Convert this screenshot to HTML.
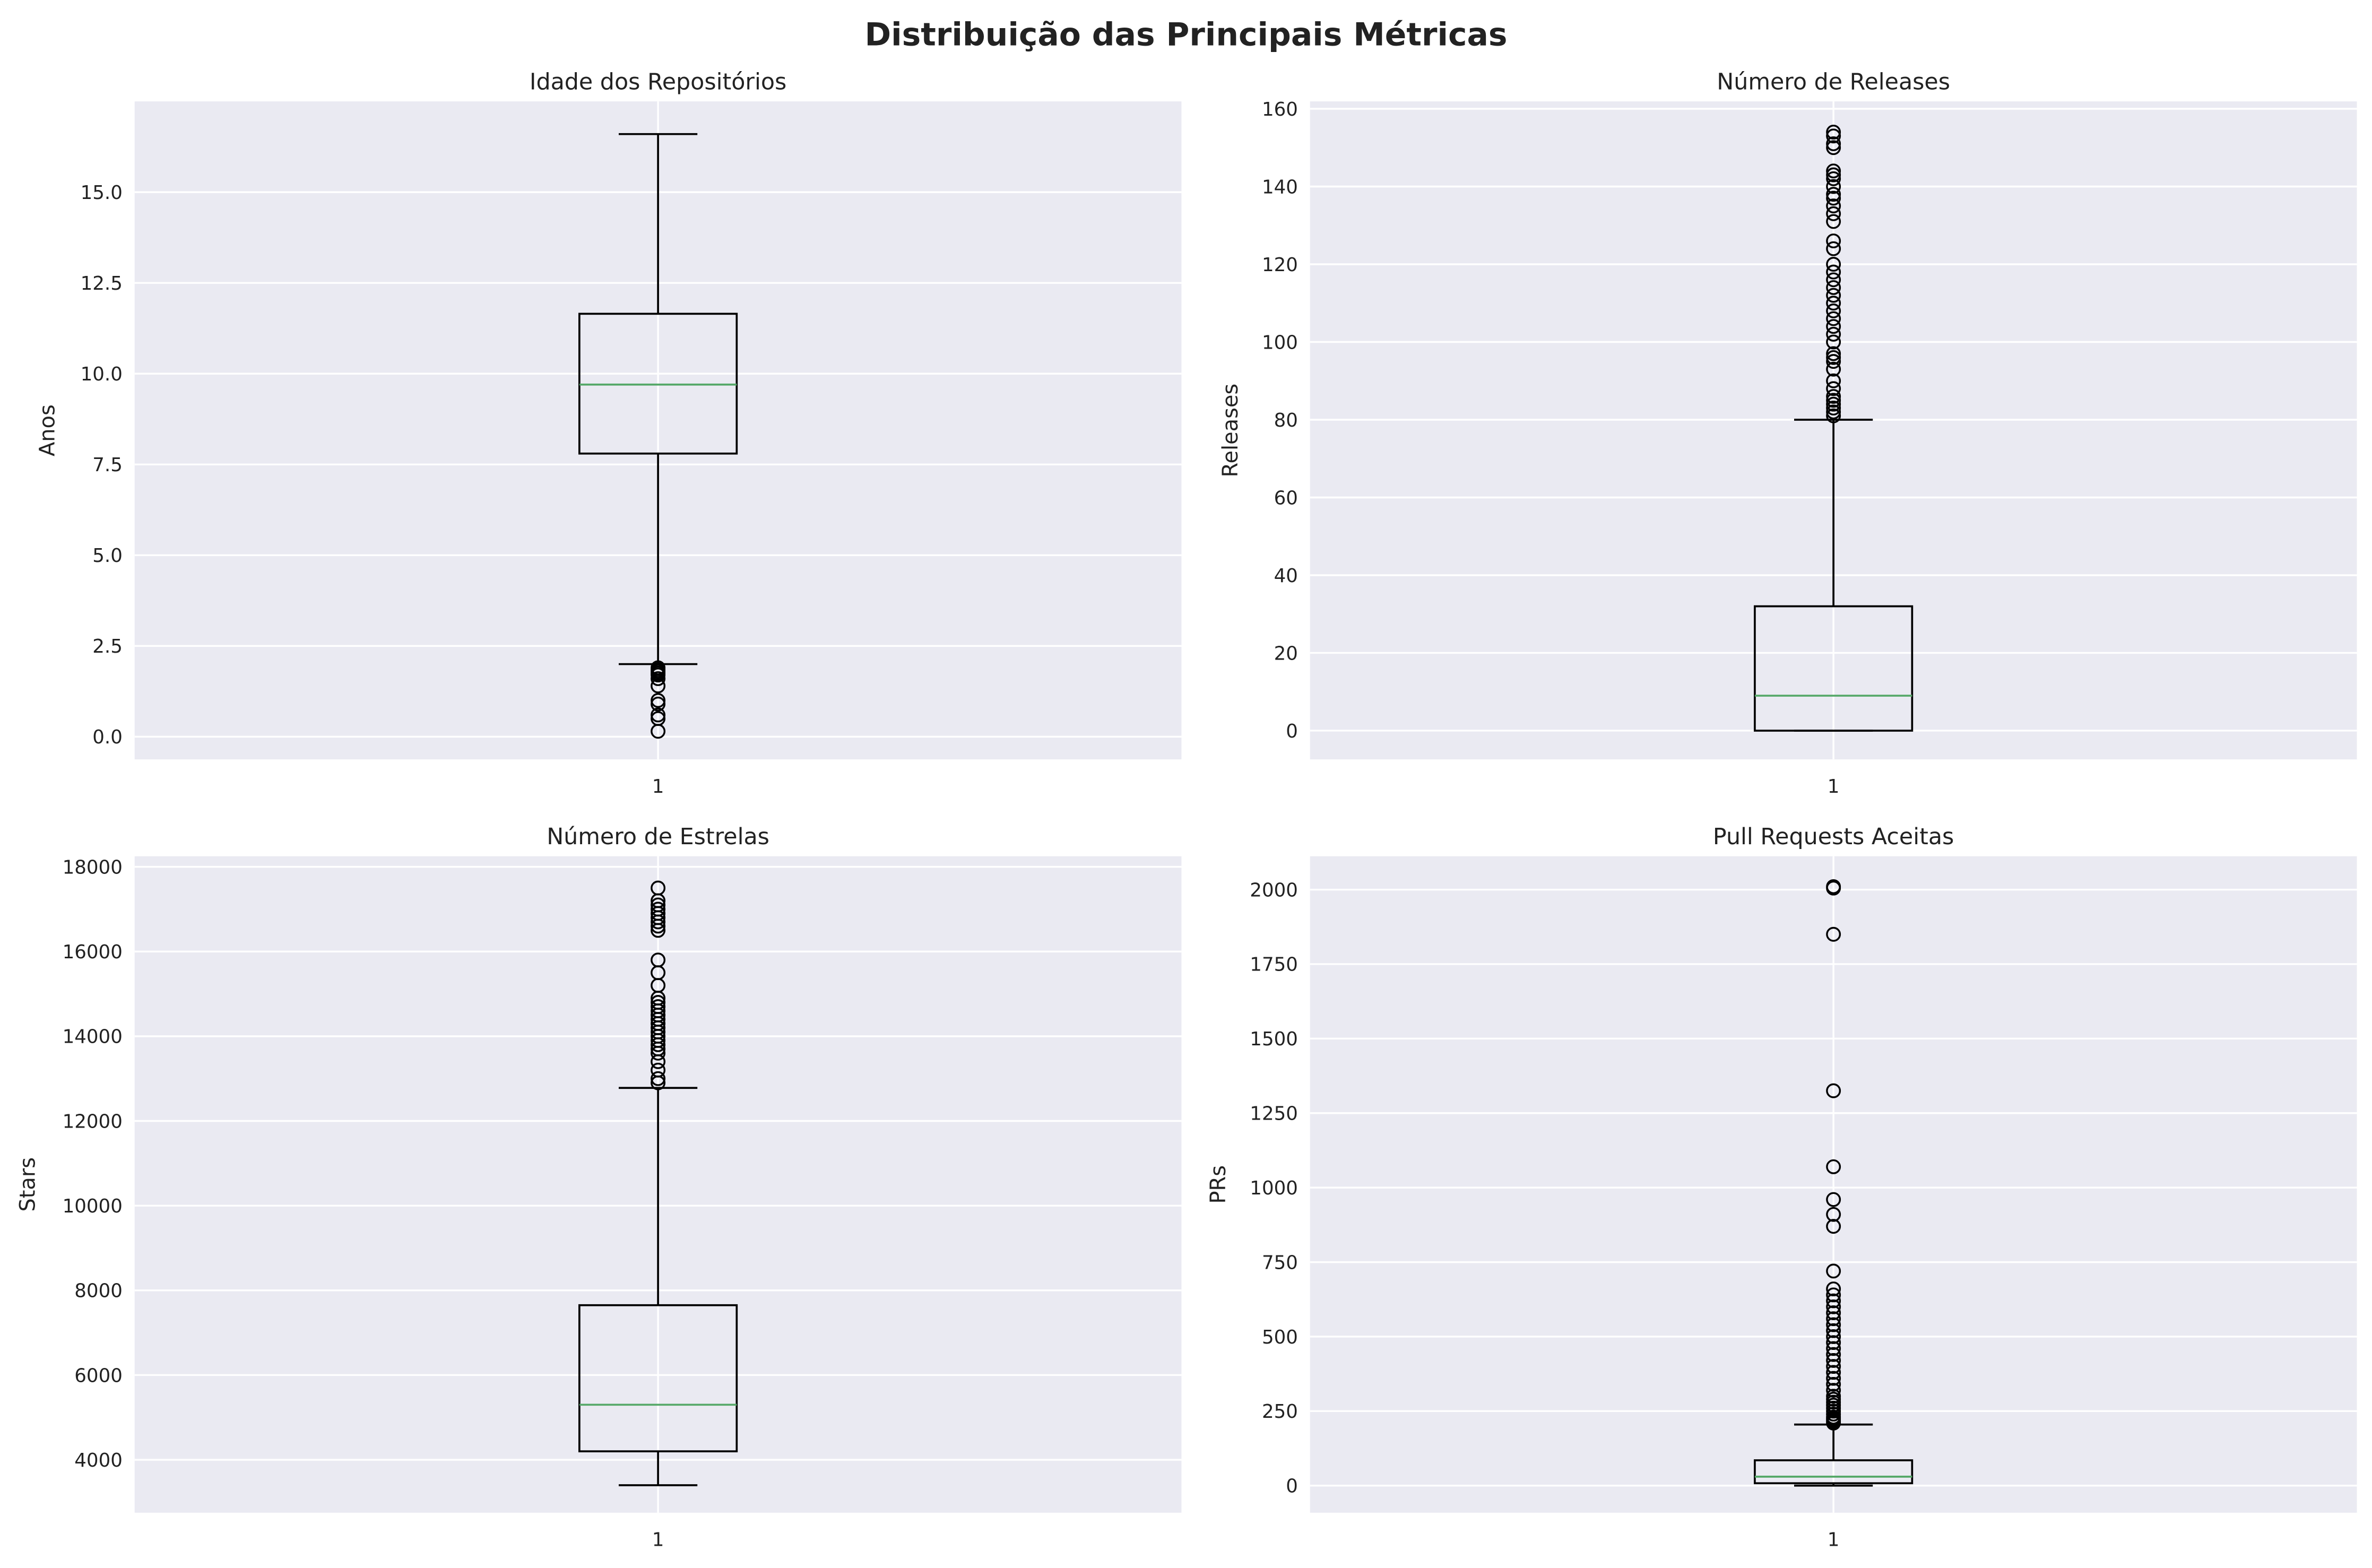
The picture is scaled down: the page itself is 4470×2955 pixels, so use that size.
<!DOCTYPE html>
<html><head><meta charset="utf-8">
<style>
html,body{margin:0;padding:0;background:#fff;}
svg{display:block;font-family:"DejaVu Sans","Liberation Sans",sans-serif;}
</style></head>
<body>
<svg id="fig" width="4470" height="2955" viewBox="0 0 1568 1036.5" xmlns="http://www.w3.org/2000/svg">
<rect width="1568" height="1036.5" fill="#fff"/>
<text x="784" y="30" text-anchor="middle" font-size="21" font-weight="bold" fill="#222">Distribuição das Principais Métricas</text>
</svg>
<script>
// Panel 1: Idade dos Repositórios
const ageStats = [2.0, 7.8, 9.7, 11.65, 16.6];
const ageOutliers = [1.9,1.85,1.8,1.75,1.7,1.6,1.4,1.0,0.9,0.6,0.5,0.15];
const ageTicks = [0,2.5,5,7.5,10,12.5,15];
const ageTickLabels = ["0.0","2.5","5.0","7.5","10.0","12.5","15.0"];
// Panel 2: Releases
const relStats = [0, 0, 9, 32, 80];
const relOutliers = [81,82,83,84,85,86,88,90,93,95,96,97,100,102,104,106,108,110,112,114,116,118,120,124,126,131,133,135,137,138,140,142,143,144,150,151,153,154];
const relTicks = [0,20,40,60,80,100,120,140,160];
const relTickLabels = ["0","20","40","60","80","100","120","140","160"];
// Panel 3: Stars
const starStats = [3400, 4200, 5300, 7650, 12780];
const starOutliers = [12900,13000,13200,13400,13600,13700,13800,13900,14000,14100,14200,14300,14400,14500,14600,14700,14800,14900,15200,15500,15800,16500,16600,16700,16800,16900,17000,17100,17200,17500];
const starTicks = [4000,6000,8000,10000,12000,14000,16000,18000];
const starTickLabels = ["4000","6000","8000","10000","12000","14000","16000","18000"];
// Panel 4: PRs
const prStats = [0, 8, 30, 85, 205];
const prOutliers = [210,215,220,225,230,240,250,260,270,280,290,300,320,340,360,380,400,420,440,460,480,500,520,540,560,580,600,620,640,660,720,870,910,960,1070,1325,1850,2005,2010];
const prTicks = [0,250,500,750,1000,1250,1500,1750,2000];
const prTickLabels = ["0","250","500","750","1000","1250","1500","1750","2000"];

const NS="http://www.w3.org/2000/svg";
const svg=document.getElementById('fig');
function mk(tag,attrs,parent){const e=document.createElementNS(NS,tag);for(const k in attrs)e.setAttribute(k,attrs[k]);(parent||svg).appendChild(e);return e;}

function panel(name,x0,y0,w,h,ymin,ymax,stats,outliers,ticks,labels,title,ylabel,ylx){
  const g=mk('g',{});
  
  
  const Y=v=>y0+h-(v-ymin)/(ymax-ymin)*h;
  const cx=x0+w/2;
  const bg=mk('rect',{x:x0,y:y0,width:w,height:h,fill:'#eaeaf2'},g);
  
  
  ticks.forEach((t,i)=>{
    const y=Y(t);
    const gl=mk('line',{x1:x0,x2:x0+w,y1:y,y2:y,stroke:'#fff','stroke-width':1.2},g);
    
    
    const tl=mk('text',{x:x0-8,y:y+4.5,'text-anchor':'end','font-size':12.5,fill:'#222'},g);
    tl.textContent=labels[i];
    
    
  });
  mk('line',{x1:cx,x2:cx,y1:y0,y2:y0+h,stroke:'#fff','stroke-width':1.2},g);
  const xl=mk('text',{x:cx,y:y0+h+22,'text-anchor':'middle','font-size':12.5,fill:'#222'},g);
  xl.textContent='1';
  
  
  const tt=mk('text',{x:cx,y:y0-8,'text-anchor':'middle','font-size':15,fill:'#222'},g);
  tt.textContent=title;
  
  
  const yt=mk('text',{x:0,y:0,'text-anchor':'middle','font-size':14,fill:'#222',transform:`translate(${ylx},${y0+h/2}) rotate(-90)`},g);
  yt.textContent=ylabel;
  
  
  const [lo,q1,med,q3,hi]=stats;
  const bw=104, cw=52;
  const s={stroke:'#000','stroke-width':1.3,fill:'none'};
  const w1=mk('line',Object.assign({x1:cx,x2:cx,y1:Y(q3),y2:Y(hi)},s),g);
  
  
  const w2=mk('line',Object.assign({x1:cx,x2:cx,y1:Y(q1),y2:Y(lo)},s),g);
  
  
  const c1=mk('line',Object.assign({x1:cx-cw/2,x2:cx+cw/2,y1:Y(hi),y2:Y(hi)},s),g);
  
  
  const c2=mk('line',Object.assign({x1:cx-cw/2,x2:cx+cw/2,y1:Y(lo),y2:Y(lo)},s),g);
  
  
  const bx=mk('rect',Object.assign({x:cx-bw/2,y:Y(q3),width:bw,height:Y(q1)-Y(q3)},s),g);
  
  
  const md=mk('line',{x1:cx-bw/2,x2:cx+bw/2,y1:Y(med),y2:Y(med),stroke:'#55a868','stroke-width':1.3},g);
  
  
  outliers.forEach(v=>{
    const c=mk('circle',{cx:cx,cy:Y(v),r:4.3,fill:'none',stroke:'#000','stroke-width':1.2},g);
    
    
  });
}
panel('age',89,67,692,435,-0.625,17.5,ageStats,ageOutliers,ageTicks,ageTickLabels,'Idade dos Repositórios','Anos',36);
panel('releases',866,67,692,435,-7.4,161.9,relStats,relOutliers,relTicks,relTickLabels,'Número de Releases','Releases',818);
panel('stars',89,566,692,434,2750,18250,starStats,starOutliers,starTicks,starTickLabels,'Número de Estrelas','Stars',23);
panel('prs',866,566,692,434,-91,2112,prStats,prOutliers,prTicks,prTickLabels,'Pull Requests Aceitas','PRs',810);
</script>
</body></html>
